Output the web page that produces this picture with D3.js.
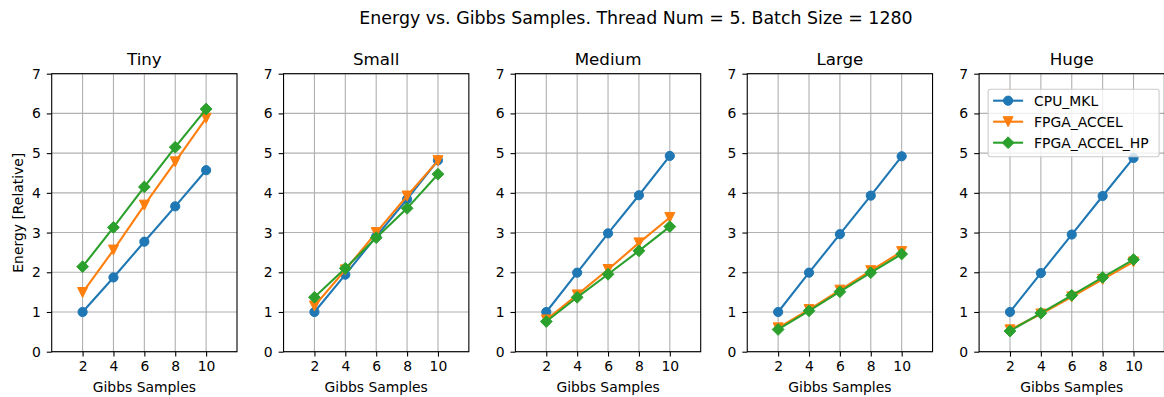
<!DOCTYPE html>
<html>
<head>
<meta charset="utf-8">
<script src="https://cdn.jsdelivr.net/npm/d3@7/dist/d3.min.js"></script>
<style>
  html, body { margin: 0; padding: 0; background: #fff; }
  svg { display: block; font-family: "DejaVu Sans", sans-serif; }
</style>
</head>
<body>
<svg id="chart" width="1164" height="397"></svg>
<script>
const SUPTITLE = 'Energy vs. Gibbs Samples. Thread Num = 5. Batch Size = 1280';
const panels = ['Tiny', 'Small', 'Medium', 'Large', 'Huge'];
const gibbsSamples = [2, 4, 6, 8, 10];
const xTicks = [2, 4, 6, 8, 10];
const yTicks = [0, 1, 2, 3, 4, 5, 6, 7];
const seriesNames = ['CPU_MKL', 'FPGA_ACCEL', 'FPGA_ACCEL_HP'];

// energy per panel, one row per series (CPU_MKL, FPGA_ACCEL, FPGA_ACCEL_HP)
const tinyValues = [
  [1.0, 1.87, 2.77, 3.66, 4.57],
  [1.49, 2.56, 3.69, 4.78, 5.88],
  [2.14, 3.13, 4.15, 5.15, 6.11]
];
const smallValues = [
  [1.0, 1.94, 2.9, 3.84, 4.82],
  [1.15, 2.06, 3.0, 3.92, 4.81],
  [1.37, 2.1, 2.87, 3.61, 4.47]
];
const mediumValues = [
  [1.0, 1.99, 2.98, 3.94, 4.93],
  [0.8, 1.43, 2.07, 2.74, 3.38],
  [0.76, 1.37, 1.95, 2.54, 3.15]
];
const largeValues = [
  [1.0, 1.99, 2.96, 3.93, 4.92],
  [0.6, 1.06, 1.55, 2.04, 2.52],
  [0.56, 1.03, 1.51, 1.99, 2.46]
];
const hugeValues = [
  [1.0, 1.98, 2.95, 3.92, 4.88],
  [0.55, 0.95, 1.38, 1.82, 2.26],
  [0.52, 0.97, 1.42, 1.87, 2.32]
];
const panelValues = [tinyValues, smallValues, mediumValues, largeValues, hugeValues];

const COLORS = ['#1f77b4', '#ff7f0e', '#2ca02c'];
const FONT = 13.9;
const AX_TOP = 73.7;
const AX_H = 278;
const AX_W = 185.3;
const AX_LEFT0 = 51.7;
const AX_STEP = 231.85;

const svg = d3.select('#chart');

svg.append('text')
  .attr('x', 636)
  .attr('y', 24)
  .attr('text-anchor', 'middle')
  .attr('font-size', 17.4)
  .attr('fill', '#000')
  .text(SUPTITLE);

const x = d3.scaleLinear().domain([0, 12]).range([0, AX_W]);
const y = d3.scaleLinear().domain([0, 7]).range([AX_H, 0]);

function drawMarker(g, type, color, px, py) {
  if (type === 0) {
    g.append('circle')
      .attr('cx', px).attr('cy', py).attr('r', 4.6)
      .attr('fill', color).attr('stroke', color).attr('stroke-width', 1);
  } else if (type === 1) {
    const s = 5;
    g.append('path')
      .attr('d', `M${px - s},${py - s}L${px + s},${py - s}L${px},${py + s}Z`)
      .attr('fill', color).attr('stroke', color).attr('stroke-width', 1).attr('stroke-linejoin', 'miter');
  } else {
    const s = 5.9;
    g.append('path')
      .attr('d', `M${px},${py - s}L${px + s},${py}L${px},${py + s}L${px - s},${py}Z`)
      .attr('fill', color).attr('stroke', color).attr('stroke-width', 1);
  }
}

panels.forEach((name, i) => {
  const left = AX_LEFT0 + i * AX_STEP;
  const g = svg.append('g').attr('transform', `translate(${left},${AX_TOP})`);

  // grid
  g.append('g').selectAll('line').data(xTicks).join('line')
    .attr('x1', (d) => x(d)).attr('x2', (d) => x(d))
    .attr('y1', 0).attr('y2', AX_H)
    .attr('stroke', '#b0b0b0').attr('stroke-width', 1.1);
  g.append('g').selectAll('line').data(yTicks).join('line')
    .attr('x1', 0).attr('x2', AX_W)
    .attr('y1', (d) => y(d)).attr('y2', (d) => y(d))
    .attr('stroke', '#b0b0b0').attr('stroke-width', 1.1);

  // axes
  const xAxis = d3.axisBottom(x).tickValues(xTicks).tickFormat(d3.format('d')).tickSize(4.9).tickPadding(4.5);
  const yAxis = d3.axisLeft(y).tickValues(yTicks).tickFormat(d3.format('d')).tickSize(4.9).tickPadding(6);
  const gx = g.append('g').attr('transform', `translate(0,${AX_H})`).call(xAxis);
  const gy = g.append('g').call(yAxis);
  [gx, gy].forEach((a) => {
    a.select('.domain').remove();
    a.selectAll('line').attr('stroke', '#000').attr('stroke-width', 1.1);
    a.selectAll('text').attr('font-size', FONT).attr('font-family', '"DejaVu Sans", sans-serif').attr('fill', '#000');
  });

  // series
  const values = panelValues[i];
  const line = d3.line().x((d, k) => x(gibbsSamples[k])).y((d) => y(d));
  values.forEach((vals, s) => {
    const sg = g.append('g');
    sg.append('path')
      .datum(vals)
      .attr('d', line)
      .attr('fill', 'none')
      .attr('stroke', COLORS[s])
      .attr('stroke-width', 2.1);
    vals.forEach((v, k) => drawMarker(sg, s, COLORS[s], x(gibbsSamples[k]), y(v)));
  });

  // frame
  g.append('rect')
    .attr('x', 0).attr('y', 0).attr('width', AX_W).attr('height', AX_H)
    .attr('fill', 'none').attr('stroke', '#000').attr('stroke-width', 1.1);

  g.append('text')
    .attr('x', AX_W / 2).attr('y', -8.5)
    .attr('text-anchor', 'middle')
    .attr('font-size', 16.7)
    .text(name);

  g.append('text')
    .attr('x', AX_W / 2).attr('y', AX_H + 40)
    .attr('text-anchor', 'middle')
    .attr('font-size', FONT)
    .text('Gibbs Samples');

  if (i === 0) {
    g.append('text')
      .attr('transform', `translate(${-AX_LEFT0 + 22.5},${AX_H / 2}) rotate(-90)`)
      .attr('text-anchor', 'middle')
      .attr('font-size', FONT)
      .text('Energy [Relative]');
  }

  if (i === panels.length - 1) {
    const lg = g.append('g').attr('transform', `translate(${9},${15.5})`);
    lg.append('rect')
      .attr('x', 0).attr('y', 0).attr('width', 171).attr('height', 67.5)
      .attr('rx', 2.5)
      .attr('fill', 'rgba(255,255,255,0.8)')
      .attr('stroke', '#cccccc').attr('stroke-width', 1.1);
    seriesNames.forEach((sn, s) => {
      const ly = 11.5 + s * 21;
      lg.append('line')
        .attr('x1', 5).attr('x2', 35).attr('y1', ly).attr('y2', ly)
        .attr('stroke', COLORS[s]).attr('stroke-width', 2.1);
      drawMarker(lg, s, COLORS[s], 20, ly);
      lg.append('text')
        .attr('x', 46).attr('y', ly + 5)
        .attr('font-size', FONT)
        .text(sn);
    });
  }
});
</script>
</body>
</html>
